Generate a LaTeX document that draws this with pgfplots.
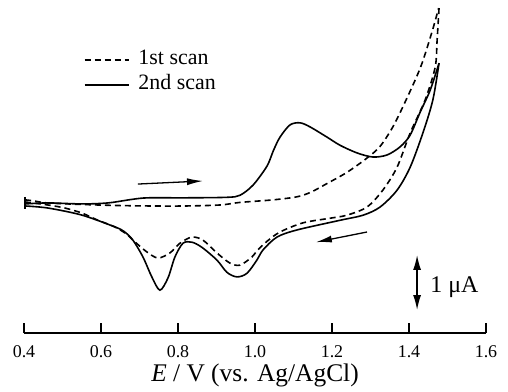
\documentclass[border=0pt]{standalone}
\usepackage{fontspec}
\setmainfont{Liberation Serif}
\usepackage{pgfplots}
\pgfplotsset{compat=1.18}
\usetikzlibrary{arrows.meta}
\begin{document}
\begin{tikzpicture}
\begin{axis}[
  scale only axis, width=462bp, height=333bp,
  xmin=0.4, xmax=1.6, ymin=-2.41, ymax=4.118,
  axis x line=bottom, axis y line=none,
  x axis line style={-, line width=1.2bp},
  xtick={0.4,0.6,0.8,1.0,1.2,1.4,1.6},
  tick align=inside, major tick length=10bp,
  xtick style={line width=1.2bp, black},
  xticklabel style={font=\fontsize{18}{18}\selectfont, anchor=base, yshift=-24bp, /pgf/number format/.cd, fixed, fixed zerofill, precision=1, assume math mode=true},
  xlabel={\textit{E} / V (vs. Ag/AgCl)},
  xlabel style={font=\fontsize{25.5}{25.5}\selectfont, at={(axis description cs:0.5,0)}, anchor=center, yshift=-42bp},
  clip=false,
  legend style={at={(axis cs:0.555,3.11)}, anchor=north west, draw=none, fill=none, inner sep=0pt,
    font=\fontsize{22}{22}\selectfont, nodes={inner sep=1bp, text height=12bp, text depth=3bp},
    row sep=8bp, /tikz/every odd column/.append style={column sep=8bp}},
  legend cell align=left,
  legend image code/.code={\draw[#1] (0bp,0bp) -- (44bp,0bp);},
]
% 1st scan (dashed)
\addplot[black, line width=1.6bp, dash pattern=on 6bp off 4bp, smooth, tension=0.5] coordinates {
(0.403,0.20) (0.425,0.18) (0.46,0.14) (0.55,0.11) (0.64,0.09) (0.73,0.08) (0.82,0.08)
(0.91,0.10) (0.961,0.15) (1.047,0.20) (1.109,0.26) (1.145,0.35) (1.187,0.52) (1.239,0.74)
(1.291,1.02) (1.325,1.25) (1.358,1.63) (1.390,2.12) (1.430,2.80) (1.460,3.50) (1.477,3.96)
};
\addlegendentry{1st scan}
% 2nd scan (solid)
\addplot[black, line width=1.6bp, smooth, tension=0.5] coordinates {
(0.403,0.12) (0.462,0.14) (0.551,0.12) (0.618,0.14) (0.681,0.21) (0.722,0.24) (0.818,0.24)
(0.927,0.25) (0.961,0.29) (0.995,0.49) (1.031,0.86) (1.048,1.17) (1.065,1.43)
(1.091,1.67) (1.117,1.71) (1.143,1.63) (1.187,1.43) (1.221,1.27) (1.265,1.12) (1.306,1.04)
(1.343,1.08) (1.377,1.24) (1.403,1.47) (1.429,1.92) (1.455,2.35) (1.478,2.88)
};
\addlegendentry{2nd scan}
% 1st scan return
\addplot[black, line width=1.6bp, dash pattern=on 6bp off 4bp, smooth, tension=0.5, forget plot] coordinates {
(1.478,3.96) (1.473,3.33) (1.468,2.80) (1.442,2.16) (1.403,1.51) (1.369,0.84) (1.332,0.39)
(1.291,0.06) (1.239,-0.10) (1.195,-0.16) (1.125,-0.25) (1.065,-0.43) (1.030,-0.62)
(1.005,-0.80) (0.992,-0.92) (0.961,-1.08) (0.935,-1.04) (0.901,-0.84) (0.865,-0.59)
(0.836,-0.53) (0.805,-0.65) (0.779,-0.84) (0.748,-0.94) (0.719,-0.82)
(0.683,-0.59) (0.670,-0.49) (0.636,-0.33) (0.592,-0.20) (0.551,-0.06)
(0.506,0.04) (0.462,0.10) (0.421,0.14) (0.403,0.16)
};
% 2nd scan return
\addplot[black, line width=1.6bp, smooth, tension=0.5, forget plot] coordinates {
(1.478,2.88) (1.462,2.16) (1.436,1.51) (1.403,0.84) (1.369,0.39) (1.325,0.06) (1.281,-0.10)
(1.221,-0.20) (1.109,-0.39) (1.057,-0.53) (1.021,-0.78) (1.005,-0.98) (0.979,-1.24)
(0.953,-1.31) (0.927,-1.22) (0.901,-0.98) (0.862,-0.73) (0.836,-0.63) (0.813,-0.65)
(0.792,-0.92) (0.774,-1.33) (0.753,-1.57) (0.732,-1.31) (0.709,-0.92) (0.683,-0.59)
(0.660,-0.42) (0.636,-0.33) (0.551,-0.10) (0.462,0.04) (0.403,0.08)
};
% starting point
\addplot[black, line width=2.5bp, forget plot] coordinates {(0.403,0.26) (0.403,0.02)};
% sweep direction arrows
\draw[line width=1.3bp, -{Latex[length=16bp,width=7bp]}] (axis cs:0.696,0.51) -- (axis cs:0.865,0.57);
\draw[line width=1.3bp, -{Latex[length=16bp,width=7bp]}] (axis cs:1.291,-0.43) -- (axis cs:1.158,-0.63);
% scale bar
\draw[line width=1.5bp, {Latex[length=15bp,width=8bp]}-{Latex[length=15bp,width=8bp]}] (axis cs:1.421,-0.88) -- (axis cs:1.421,-1.96);
\node[anchor=west, inner sep=0pt, font=\fontsize{24}{24}\selectfont] at (axis cs:1.455,-1.52) {1 μA};
\end{axis}
\pgfresetboundingbox
\path (-24bp,-59bp) rectangle (484bp,333bp);
\end{tikzpicture}
\end{document}
